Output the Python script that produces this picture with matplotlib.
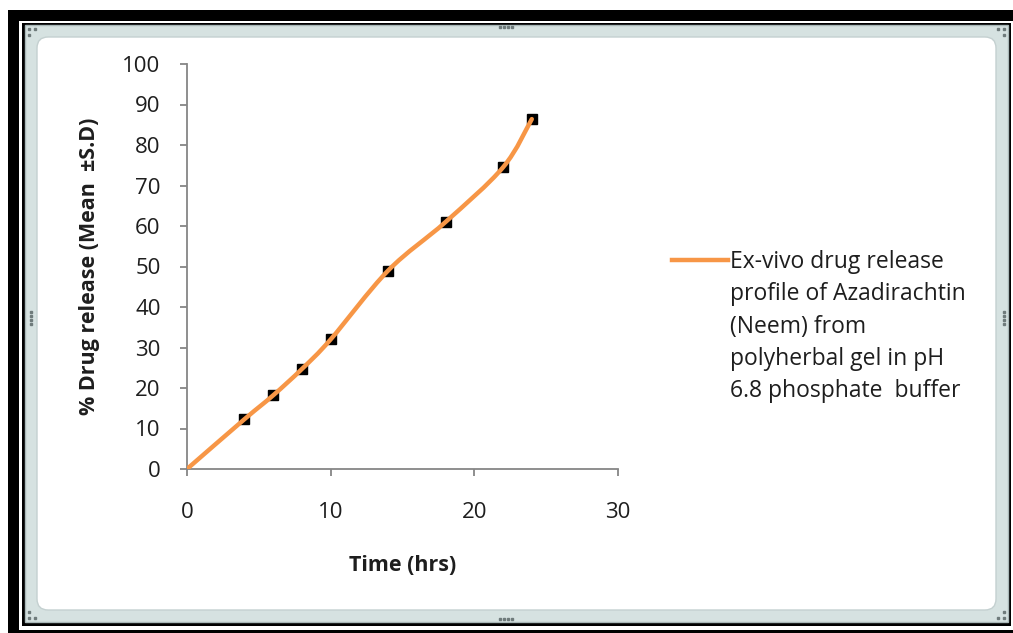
import numpy as np
import matplotlib
matplotlib.use("Agg")
from matplotlib import pyplot as plt
from matplotlib.path import Path
from matplotlib.patches import PathPatch, Rectangle, FancyBboxPatch
from matplotlib.lines import Line2D

# release data, time in hours vs % released
time_hrs = [0, 4, 6, 8, 10, 14, 18, 22, 24]
release = [0, 12.3, 18.2, 24.7, 32.0, 49.0, 61.0, 74.5, 86.4]
x_ticks = [0, 10, 20, 30]
y_ticks = [0, 10, 20, 30, 40, 50, 60, 70, 80, 90, 100]
legend_lines = ["Ex-vivo drug release",
                "profile of Azadirachtin",
                "(Neem) from",
                "polyherbal gel in pH",
                "6.8 phosphate  buffer"]

W, H = 1013, 633
plt.rcParams['font.family'] = ['Open Sans', 'DejaVu Sans']
fig = plt.figure(figsize=(W / 100, H / 100), dpi=100)
fig.patch.set_facecolor('white')


def fx(x):
    return x / W


def fy(y):
    return 1 - y / H


def box(x0, y0, x1, y1, **kw):
    r = Rectangle((fx(x0), fy(y1)), fx(x1) - fx(x0), fy(y0) - fy(y1),
                  transform=fig.transFigure, zorder=-10, **kw)
    fig.add_artist(r)
    return r


# thick black frame with a thin black inner outline
box(8, 10, W + 5, H + 5, facecolor='black', edgecolor='none')
box(19, 21, W + 5, 630, facecolor='white', edgecolor='none')
box(22, 23, 1011, 626, facecolor='black', edgecolor='none')
# grey chart-area border with rounded inner corners
box(25, 25, 1008, 622, facecolor='#d6e2e1', edgecolor='#a9b8b8', linewidth=1)
inner = FancyBboxPatch((fx(37), fy(610)), fx(996) - fx(37), fy(37) - fy(610),
                       boxstyle="round,pad=0,rounding_size=0.011",
                       transform=fig.transFigure, facecolor='white',
                       edgecolor='#c4d0d0', linewidth=1,
                       mutation_aspect=W / H, zorder=-9)
fig.add_artist(inner)

# resize handles
handle_pts = [(29, 29), (35, 29), (29, 35),
              (1004, 29), (998, 29), (1004, 35),
              (29, 618), (29, 612), (35, 618),
              (1004, 618), (998, 618), (1004, 612),
              (500, 27), (504, 27), (508, 27), (512, 27),
              (500, 619), (504, 619), (508, 619), (512, 619),
              (31, 312), (31, 316), (31, 320), (31, 324),
              (1004, 312), (1004, 316), (1004, 320), (1004, 324)]
for hx, hy in handle_pts:
    fig.add_artist(Line2D([fx(hx)], [fy(hy)], marker='s', markersize=2.0,
                          color='#6f7b7b', linestyle='none',
                          transform=fig.transFigure, zorder=-8))

ax = fig.add_axes([fx(187), fy(469), fx(618) - fx(187), fy(64) - fy(469)])
ax.set_xlim(0, 30)
ax.set_ylim(0, 100)
ax.set_facecolor('none')

# smoothed line: cubic Bezier segments through the points
pts = np.column_stack([time_hrs, release]).astype(float)
n = len(pts)
verts = [tuple(pts[0])]
codes = [Path.MOVETO]
for i in range(n - 1):
    p0 = pts[max(i - 1, 0)]
    p1 = pts[i]
    p2 = pts[i + 1]
    p3 = pts[min(i + 2, n - 1)]
    c1 = p1 + (p2 - p0) / 6
    c2 = p2 - (p3 - p1) / 6
    verts += [tuple(c1), tuple(c2), tuple(p2)]
    codes += [Path.CURVE4] * 3
ax.plot(time_hrs[1:], release[1:], linestyle='none', marker='s',
        markersize=7.5, color='black', zorder=2)
ax.add_patch(PathPatch(Path(verts, codes), facecolor='none',
                       edgecolor='#f79646', linewidth=3.2,
                       capstyle='round', zorder=3))

for s in ['top', 'right']:
    ax.spines[s].set_visible(False)
for s in ['left', 'bottom']:
    ax.spines[s].set_color('#868686')
    ax.spines[s].set_linewidth(1.3)

ax.set_xticks(x_ticks)
ax.set_yticks(y_ticks)
ax.tick_params(axis='both', direction='out', length=5, width=1.3,
               color='#868686', labelsize=16, labelcolor='#1e1e1e')
ax.tick_params(axis='y', pad=14)
ax.tick_params(axis='x', pad=19)

ax.set_xlabel('Time (hrs)', fontsize=15.5, fontweight='bold',
              color='#1e1e1e', labelpad=23)
ax.set_ylabel('% Drug release (Mean  \u00b1S.D)', fontsize=15.5,
              fontweight='bold', color='#1e1e1e', labelpad=16)

# legend entry
fig.add_artist(Line2D([fx(672), fx(728)], [fy(260), fy(260)],
                      color='#f79646', linewidth=3.2,
                      transform=fig.transFigure))
for k, line in enumerate(legend_lines):
    fig.text(fx(730), fy(262 + 32.3 * k), line, fontsize=16.5,
             color='#1e1e1e', va='center', ha='left')

fig.savefig('out.png', dpi=100, facecolor='white')
